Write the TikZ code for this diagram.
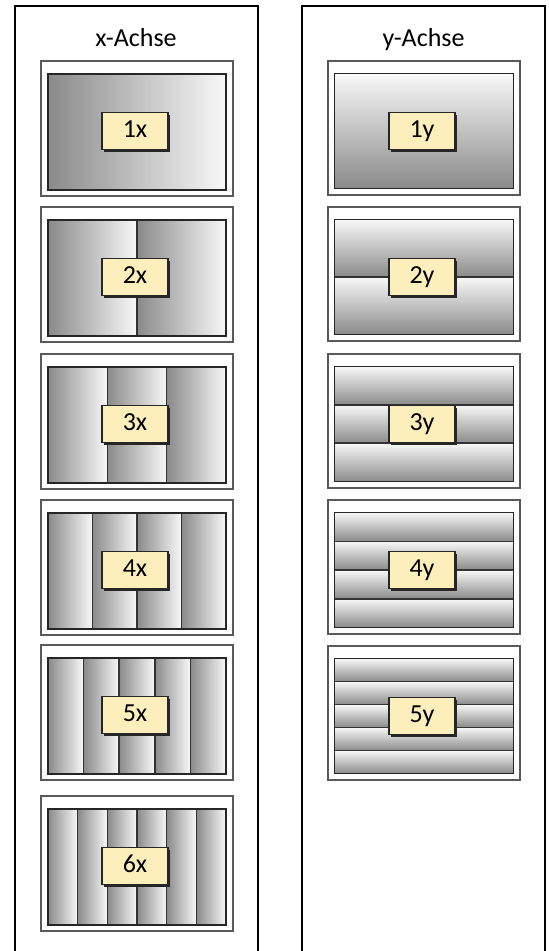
\documentclass[tikz,border=0pt]{standalone}
\usepackage{fontspec}
\setmainfont{Carlito}
\usetikzlibrary{shadows}
\definecolor{gdark}{HTML}{8A8A8A}
\definecolor{glight}{HTML}{F8F8F8}
\definecolor{lblfill}{HTML}{FDEFBC}
\begin{document}
\begin{tikzpicture}[x=1pt,y=-1pt,
  frame/.style={draw=black,line width=2pt},
  panel/.style={draw=black!65,line width=1.3pt,fill=white},
  innerbox/.style={draw=black!85,line width=1.8pt},
  stripeline/.style={draw=black!80,line width=1.5pt},
  xshade/.style={left color=gdark,right color=glight},
  yshade/.style={top color=glight,bottom color=gdark},
  lbl/.style={draw=black!85,line width=1.2pt,fill=lblfill,minimum width=66pt,minimum height=37pt,inner sep=0pt,
    font=\fontsize{26}{30}\selectfont,text height=17pt,text depth=5pt,
    drop shadow={shadow xshift=2pt,shadow yshift=-2pt,fill=black!85,opacity=1}},
  ttl/.style={font=\fontsize{26}{30}\selectfont,inner sep=0pt,anchor=base}]
\useasboundingbox (0,0) rectangle (549,951);
\fill[white] (0,0) rectangle (549,951);
% column frames
\draw[frame] (15,960) -- (15,6) -- (257.5,6) -- (257.5,960);
\draw[frame] (302,960) -- (302,6) -- (545,6) -- (545,960);
\node[ttl] (tx) at (136,46) {x-Achse};
\node[ttl] (ty) at (423.5,46) {y-Achse};
% x panels
\foreach \n/\t in {1/61,2/207,3/354,4/500,5/645,6/796} {
  \draw[panel] (41,\t) rectangle (233,{\t+135});
  \pgfmathsetmacro\w{178/\n}
  \foreach \k in {1,...,\n} {
    \shade[xshade] ({48+(\k-1)*\w},{\t+13}) rectangle ({48+\k*\w},{\t+129});
    \draw[stripeline] ({48+(\k-1)*\w},{\t+13}) rectangle ({48+\k*\w},{\t+129});
  }
  \draw[innerbox] (48,{\t+13}) rectangle (226,{\t+129});
  \node[lbl] (x\n) at (135,{\t+70}) {\n x};
}
% y panels
\foreach \n/\t in {1/61,2/207,3/354,4/500,5/646} {
  \draw[panel] (328,\t) rectangle (520,{\t+134});
  \pgfmathsetmacro\h{115/\n}
  \foreach \k in {1,...,\n} {
    \shade[yshade] (334.5,{\t+12.5+(\k-1)*\h}) rectangle (513.5,{\t+12.5+\k*\h});
    \draw[stripeline] (334.5,{\t+12.5+(\k-1)*\h}) rectangle (513.5,{\t+12.5+\k*\h});
  }
  \draw[innerbox] (334.5,{\t+12.5}) rectangle (513.5,{\t+127.5});
  \node[lbl] (y\n) at (422,{\t+70}) {\n y};
}
\end{tikzpicture}
\end{document}
